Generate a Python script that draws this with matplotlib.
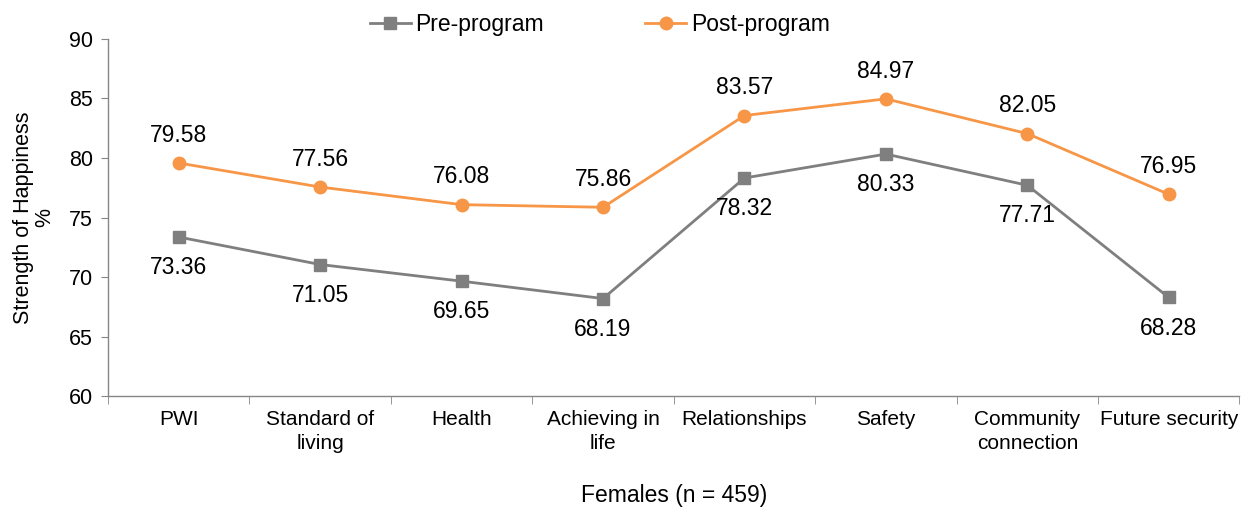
import matplotlib
matplotlib.use("Agg")
import matplotlib.pyplot as plt
import numpy as np

categories = ["PWI", "Standard of\nliving", "Health", "Achieving in\nlife", "Relationships",
              "Safety", "Community\nconnection", "Future security"]
pre_program = [73.36, 71.05, 69.65, 68.19, 78.32, 80.33, 77.71, 68.28]
post_program = [79.58, 77.56, 76.08, 75.86, 83.57, 84.97, 82.05, 76.95]
y_ticks = [60, 65, 70, 75, 80, 85, 90]

plt.rcParams['font.family'] = ['Liberation Sans', 'DejaVu Sans']

fig = plt.figure(figsize=(12.52, 5.13), dpi=100)
ax = fig.add_axes([0.0863, 0.228, 0.9037, 0.696])

x = np.arange(len(categories))
grey = "#7F7F7F"
orange = "#F79646"
ax.plot(x, pre_program, color=grey, lw=2, marker="s", ms=8, label="Pre-program")
ax.plot(x, post_program, color=orange, lw=2, marker="o", ms=9, label="Post-program")

for xi, v in zip(x, pre_program):
    ax.annotate(f"{v:.2f}", (xi, v), xytext=(0, -22), textcoords="offset points",
                ha="center", va="center", fontsize=16.5, color="black")
for xi, v in zip(x, post_program):
    ax.annotate(f"{v:.2f}", (xi, v), xytext=(0, 20), textcoords="offset points",
                ha="center", va="center", fontsize=16.5, color="black")

ax.set_xlim(-0.5, len(categories) - 0.5)
ax.set_ylim(60, 90)
ax.set_yticks(y_ticks)
ax.tick_params(axis="y", labelsize=15.5, length=5, color="#868686", pad=6)
ax.set_xticks(x)
ax.set_xticklabels(categories, fontsize=15, linespacing=1.35)
ax.tick_params(axis="x", length=0, pad=10)
ax.set_xticks(np.arange(-0.5, len(categories), 1), minor=True)
ax.tick_params(axis="x", which="minor", length=6, color="#868686")

for s in ["top", "right"]:
    ax.spines[s].set_visible(False)
for s in ["left", "bottom"]:
    ax.spines[s].set_color("#868686")
    ax.spines[s].set_linewidth(1)

ax.set_ylabel("Strength of Happiness\n%", fontsize=15.5, labelpad=10, linespacing=1.0)
ax.set_xlabel("Females (n = 459)", fontsize=16.5, labelpad=22)

fig.legend(handles=ax.get_lines(), loc="center", bbox_to_anchor=(0.479, 0.953), ncol=2,
           frameon=False, fontsize=16.5, handlelength=1.8, columnspacing=4.4,
           handletextpad=0.2, borderpad=0, borderaxespad=0)

fig.savefig("out.png", dpi=100)
